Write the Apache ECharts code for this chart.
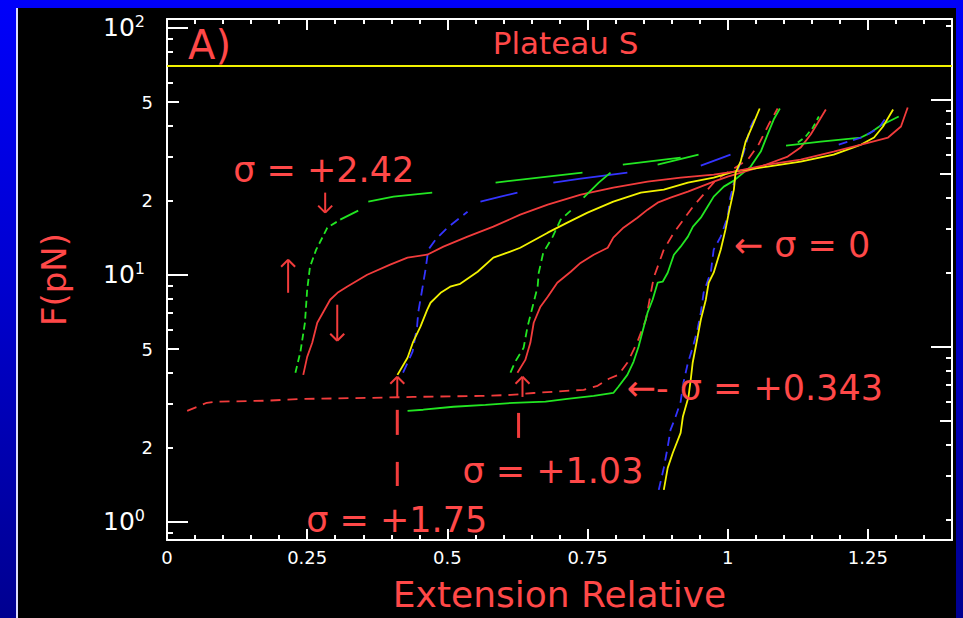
<!DOCTYPE html>
<html><head><meta charset="utf-8">
<script src="https://cdn.jsdelivr.net/npm/echarts@6/dist/echarts.min.js"></script>
<style>
html,body{margin:0;padding:0;width:963px;height:618px;overflow:hidden;
 background:linear-gradient(to bottom,#0000fa 0%,#0000d0 45%,#000090 100%);}
#edge{position:absolute;left:16px;top:8px;width:2px;height:610px;background:#dcdcff;}
#frame{position:absolute;left:18px;top:8px;width:938px;height:610px;background:#000;}
#chart{position:absolute;left:0;top:0;width:963px;height:618px;}
</style></head><body>
<div id="edge"></div><div id="frame"></div><div id="chart"></div>
<script>
// ---------- axis ranges & ticks ----------
const xRange = [0, 1.4];
const forceRange = [0.843, 108.5];
const xMajorTicks = [0, 0.25, 0.5, 0.75, 1, 1.25];
const xMinorTicks = [0.05,0.1,0.15,0.2,0.3,0.35,0.4,0.45,0.55,0.6,0.65,0.7,0.8,0.85,0.9,0.95,1.05,1.1,1.15,1.2,1.3,1.35];
const forceMajorTicks = [1, 10, 100];
const forceMidTicks = [5, 50];
const forceMinorTicks = [0.9,2,3,4,6,7,8,9,20,30,40,60,70,80,90];
const forceMinorLabels = [2, 20];
const rightAxisUnit = 5.11;              // force at which the right-hand decade ticks sit
const rightMajorMultiples = [1, 10];
const rightMidMultiples = [0.5, 5];
const rightMinorMultiples = [0.2,0.3,0.4,0.6,0.7,0.8,0.9,2,3,4,6,7,8,9,20];
const plateauForce = 70;

// ---------- curves: [extension, force pN] ----------
// sigma = +2.42 : green dashed (steep part) + its visible flat pieces, red solid
const s242GreenDash = [[0.229,4.01],[0.238,4.88],[0.246,6.39],[0.25,8.69],[0.255,10.77],[0.266,12.63],[0.286,15.5],[0.309,16.71]];
const s242GreenPieces = [
  [[0.309,16.71],[0.341,18.17]],
  [[0.359,19.76],[0.404,20.71],[0.473,21.5]],
  [[0.586,23.6],[0.741,25.91]],
  [[0.813,27.92],[0.916,29.8]]
];
const s242Red = [[0.243,3.93],[0.25,4.65],[0.259,5.3],[0.268,6.39],[0.279,7.08],[0.291,7.92],[0.304,8.45],[0.321,8.94],[0.357,10.0],[0.398,10.98],[0.429,11.72],[0.464,12.05],[0.493,12.99],[0.536,14.26],[0.582,15.65],[0.63,17.51],[0.679,19.21],[0.738,21.1],[0.796,22.52],[0.857,23.82],[0.916,24.73],[0.975,25.43],[1.011,26.15],[1.071,27.92],[1.13,29.25],[1.189,31.52],[1.238,33.65],[1.286,35.93],[1.309,39.81],[1.321,47.53]];
// sigma = +1.75
const s175BlueDash = [[0.421,4.01],[0.438,4.88],[0.446,6.16],[0.448,7.02],[0.455,8.69],[0.461,10.48],[0.466,12.63],[0.479,13.87],[0.5,15.5],[0.536,18.0]];
const s175BluePieces = [
  [[0.559,19.76],[0.595,20.71],[0.625,21.5]],
  [[0.689,23.6],[0.738,24.49],[0.821,25.91]],
  [[0.952,27.66],[1.005,30.64]]
];
const s175Yellow = [[0.411,3.93],[0.429,4.61],[0.439,5.35],[0.452,6.16],[0.464,7.21],[0.47,7.7],[0.488,8.45],[0.505,8.94],[0.523,9.19],[0.554,10.28],[0.582,11.72],[0.607,12.28],[0.63,12.86],[0.679,14.8],[0.714,16.25],[0.75,17.84],[0.796,19.76],[0.845,21.5],[0.886,22.11],[0.929,23.6],[0.975,24.73],[1.011,26.15],[1.071,27.4],[1.13,28.71],[1.189,30.64],[1.238,33.65],[1.261,35.93],[1.277,39.81],[1.295,46.66]];
const s175Green = [[0.429,2.81],[0.457,2.84],[0.511,2.92],[0.568,2.97],[0.618,3.03],[0.675,3.06],[0.714,3.14],[0.761,3.23],[0.796,3.32],[0.805,3.52],[0.821,3.93],[0.832,4.44],[0.841,5.11],[0.848,5.88],[0.857,7.02],[0.866,7.92],[0.875,9.28],[0.884,9.37],[0.893,10.19],[0.904,12.05],[0.916,12.99],[0.929,14.26],[0.938,15.65],[0.952,17.02],[0.964,18.86],[0.975,20.71],[0.993,22.74],[1.011,24.04],[1.041,27.4],[1.059,31.52],[1.071,36.94],[1.082,42.49],[1.093,47.1]];
const s175RedDash = [[0.036,2.81],[0.054,2.92],[0.071,3.03],[0.089,3.06],[0.179,3.09],[0.238,3.14],[0.357,3.17],[0.439,3.2],[0.559,3.23],[0.613,3.26],[0.654,3.32],[0.743,3.42],[0.768,3.55],[0.788,3.79],[0.805,3.93],[0.821,4.4],[0.839,5.35],[0.854,6.57],[0.868,9.72],[0.886,12.63],[0.904,14.8],[0.938,18.86],[0.975,23.6],[0.988,24.96],[1.036,29.25],[1.055,33.65],[1.073,40.55],[1.089,47.1]];
// sigma = +1.03
const s103GreenDash = [[0.6125,4.01],[0.621,4.44],[0.636,5.06],[0.643,6.16],[0.652,7.42],[0.661,8.94],[0.663,10.19],[0.671,12.28],[0.688,14.26],[0.702,16.71],[0.72,18.17]];
const s103GreenPieces = [
  [[0.743,20.52],[0.77,23.6],[0.791,25.91]],
  [[0.875,27.92],[0.948,30.64]]
];
const s103Red = [[0.625,4.01],[0.639,4.52],[0.648,5.3],[0.654,6.39],[0.666,7.42],[0.679,8.14],[0.696,9.28],[0.72,10.28],[0.7375,11.16],[0.761,12.05],[0.786,12.86],[0.796,14.13],[0.814,15.5],[0.839,17.02],[0.857,18.34],[0.875,19.58],[0.898,20.52],[0.929,21.7],[0.952,22.74],[0.975,23.82],[1.0,24.96],[1.054,27.15],[1.107,30.09],[1.13,32.72],[1.148,36.94],[1.161,41.32],[1.175,46.66]];
// sigma = 0
const s0Yellow = [[0.886,1.345],[0.893,1.651],[0.902,1.897],[0.916,2.288],[0.92,2.658],[0.93,3.2],[0.934,3.75],[0.9375,4.4],[0.943,5.11],[0.952,6.57],[0.961,7.92],[0.966,9.28],[0.975,10.19],[0.9875,12.63],[0.996,15.22],[1.002,17.84],[1.011,22.11],[1.014,25.91],[1.023,28.71],[1.032,34.6],[1.045,40.55],[1.057,47.1]];
const s0BlueDash = [[0.877,1.345],[0.886,1.651],[0.893,2.008],[0.898,2.353],[0.907,2.658],[0.916,3.057],[0.921,3.65],[0.929,4.4],[0.9375,5.06],[0.946,5.99],[0.952,7.02],[0.957,8.45],[0.97,10.28],[0.975,12.63],[0.9875,14.26],[1.0,17.18],[1.005,20.71],[1.014,24.96],[1.029,31.52],[1.041,39.81],[1.05,43.7]];
const s0Green = [[1.104,33.34],[1.166,34.6],[1.2375,35.93],[1.255,37.63],[1.273,40.18],[1.305,43.7]];
const s0GreenDash = [[1.125,34.28],[1.139,36.26],[1.152,39.44],[1.1625,43.7]];
const s0BlueDash2 = [[1.198,33.65],[1.243,36.26],[1.27,39.44],[1.286,44.5]];

// ---------- annotations ----------
const annotationTexts = ['A)', 'Plateau S', 'σ = +2.42', '← σ = 0', '←- σ = +0.343', 'σ = +1.03', 'σ = +1.75'];
const annotationAnchors = [[0.0375,84.8],[0.711,86.4],[0.118,26.65],[1.0107,13.2],[0.8196,3.48],[0.5268,1.605],[0.2482,1.016]];
// vertical arrows: [extension, tail force, tip force]
const arrows = [[0.2821,21.5,17.84],[0.216,8.45,11.5],[0.3036,7.56,5.40],[0.4107,3.20,3.86],[0.634,3.20,3.86]];
// vertical leader dashes: [extension, force from, force to]
const leaders = [[0.4107,2.837,2.246],[0.4107,1.746,1.395],[0.627,2.757,2.184]];

// ---------- styles ----------
const RED = '#f23c3c', TXTRED = '#ff4848', GREEN = '#22e622', BLUE = '#3434ff', YELLOW = '#f2f200', WHITE = '#ffffff';
const FONT = 'DejaVu Sans';
const LW = 1.8;
const annotationSizes = [40, 31, 35, 35, 35, 35, 35];
const annotationAlign = ['left','center','left','left','left','left','left'];

const L = v => Math.log10(v);
const curveDefs = [
  [s175RedDash, RED, [10,7]],
  [s242GreenDash, GREEN, [7,4]],
  [s175BlueDash, BLUE, [10,6]],
  [s103GreenDash, GREEN, [8,5]],
  [s0BlueDash, BLUE, [9,6]],
  [s175Green, GREEN, 'solid'],
  [s103Red, RED, 'solid'],
  [s0Green, GREEN, 'solid'],
  [s0GreenDash, GREEN, [6,4]],
  [s0BlueDash2, BLUE, [9,6]],
  [s175Yellow, YELLOW, 'solid'],
  [s242Red, RED, 'solid'],
  [s0Yellow, YELLOW, 'solid']
];
s242GreenPieces.forEach(p => curveDefs.push([p, GREEN, 'solid']));
s175BluePieces.forEach(p => curveDefs.push([p, BLUE, 'solid']));
s103GreenPieces.forEach(p => curveDefs.push([p, GREEN, 'solid']));

const series = curveDefs.map(([d, c, t], i) => ({
  type: 'line', data: d.map(p => [p[0], L(p[1])]), symbol: 'none', silent: true,
  lineStyle: {color: c, width: LW, type: t}, z: 2 + i, animation: false
}));
series.push({type: 'line', data: [[xRange[0], L(plateauForce)], [xRange[1], L(plateauForce)]],
  symbol: 'none', silent: true, lineStyle: {color: YELLOW, width: 2}, z: 40, animation: false});

series.push({
  type: 'custom', silent: true, z: 50, animation: false,
  data: arrows.map(a => [a[0], L(a[1]), L(a[2])]),
  encode: {x: 0, y: [1, 2]},
  renderItem: (params, api) => {
    const tail = api.coord([api.value(0), api.value(1)]);
    const tip = api.coord([api.value(0), api.value(2)]);
    const dir = tip[1] < tail[1] ? 1 : -1; // 1 = pointing up
    const st = {stroke: RED, lineWidth: 2};
    return {type: 'group', children: [
      {type: 'line', shape: {x1: tail[0], y1: tail[1], x2: tip[0], y2: tip[1]}, style: st},
      {type: 'line', shape: {x1: tip[0], y1: tip[1], x2: tip[0] - 7, y2: tip[1] + dir * 7}, style: st},
      {type: 'line', shape: {x1: tip[0], y1: tip[1], x2: tip[0] + 7, y2: tip[1] + dir * 7}, style: st}
    ]};
  }
});
series.push({
  type: 'custom', silent: true, z: 50, animation: false,
  data: leaders.map(a => [a[0], L(a[1]), L(a[2])]),
  encode: {x: 0, y: [1, 2]},
  renderItem: (params, api) => {
    const a = api.coord([api.value(0), api.value(1)]);
    const b = api.coord([api.value(0), api.value(2)]);
    return {type: 'line', shape: {x1: a[0], y1: a[1], x2: b[0], y2: b[1]}, style: {stroke: RED, lineWidth: 3}};
  }
});
series.push({
  type: 'custom', silent: true, z: 60, animation: false,
  data: annotationAnchors.map(a => [a[0], L(a[1])]),
  encode: {x: 0, y: 1},
  renderItem: (params, api) => {
    const p = api.coord([api.value(0), api.value(1)]);
    const i = params.dataIndex;
    return {type: 'text', x: p[0], y: p[1], style: {
      text: annotationTexts[i], fill: TXTRED, fontSize: annotationSizes[i], fontFamily: FONT,
      align: annotationAlign[i], verticalAlign: 'middle'}};
  }
});

const tickLine = {color: WHITE, width: 2};
function xAx(pos, ticks, len, labels, main) {
  return {type: 'value', position: pos, min: xRange[0], max: xRange[1], gridIndex: 0,
    axisLine: {show: !!main, onZero: false, lineStyle: {color: WHITE, width: 2}},
    axisTick: {show: true, inside: true, length: len, customValues: ticks, lineStyle: tickLine},
    axisLabel: labels ? {show: true, customValues: ticks, color: WHITE, fontFamily: FONT, fontSize: 18, margin: 8} : {show: false},
    splitLine: {show: false}};
}
function yAx(pos, ticks, len, labelVals, fmt, margin, main) {
  return {type: 'value', position: pos, min: L(forceRange[0]), max: L(forceRange[1]), gridIndex: 0,
    axisLine: {show: !!main, onZero: false, lineStyle: {color: WHITE, width: 2}},
    axisTick: {show: true, inside: true, length: len, customValues: ticks.map(L), lineStyle: tickLine},
    axisLabel: labelVals ? {show: true, customValues: labelVals.map(L), formatter: fmt, color: WHITE,
      fontFamily: FONT, fontSize: 18, margin: margin,
      rich: {b: {fontSize: 25, fontFamily: FONT, color: WHITE, lineHeight: 28},
             s: {fontSize: 16, fontFamily: FONT, color: WHITE, lineHeight: 16, verticalAlign: 'top'}}} : {show: false},
    splitLine: {show: false}};
}
const xAxes = [
  Object.assign(xAx('bottom', xMajorTicks, 11, true, true), {name: 'Extension Relative', nameLocation: 'middle', nameGap: 36,
    nameTextStyle: {color: TXTRED, fontSize: 36, fontFamily: FONT}}),
  xAx('bottom', xMinorTicks, 5, false, false),
  xAx('top', xMajorTicks, 11, false, true),
  xAx('top', xMinorTicks, 5, false, false)
];
const yAxes = [
  Object.assign(yAx('left', forceMajorTicks, 21, forceMajorTicks, v => '{b|10}{s|' + Math.round(v) + '}', 22, true),
    {name: 'F(pN)', nameLocation: 'middle', nameGap: 96, nameTextStyle: {color: TXTRED, fontSize: 34, fontFamily: FONT}}),
  yAx('left', forceMidTicks, 12, forceMidTicks, () => '5', 14, false),
  yAx('left', forceMinorTicks, 6, forceMinorLabels, () => '2', 14, false),
  yAx('right', rightMajorMultiples.map(m => m * rightAxisUnit), 21, null, null, 0, true),
  yAx('right', rightMidMultiples.map(m => m * rightAxisUnit), 12, null, null, 0, false),
  yAx('right', rightMinorMultiples.map(m => m * rightAxisUnit), 6, null, null, 0, false)
];

const chart = echarts.init(document.getElementById('chart'), null, {renderer: 'svg'});
chart.setOption({
  backgroundColor: 'transparent', animation: false,
  grid: {left: 167, top: 19, width: 785, height: 521},
  xAxis: xAxes, yAxis: yAxes, series: series
});
</script></body></html>
